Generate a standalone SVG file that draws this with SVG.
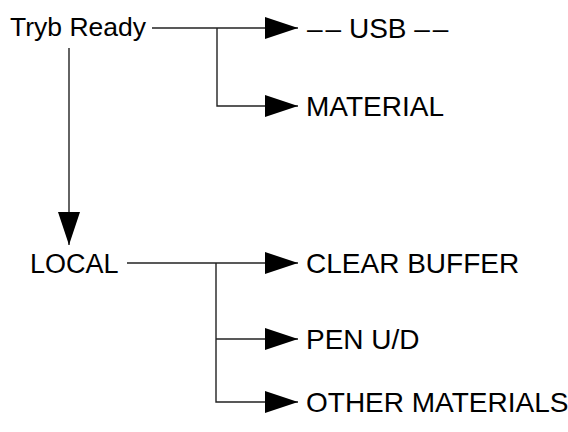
<svg xmlns="http://www.w3.org/2000/svg" width="568" height="432" viewBox="0 0 568 432">
<style>
.t{font-family:"Liberation Sans",Arial,sans-serif;font-size:28px;fill:#000}
.c{fill:none;stroke:#222;stroke-width:1.4}
</style>
<defs>
<marker id="ah" markerUnits="userSpaceOnUse" markerWidth="34" markerHeight="24" refX="33" refY="12" orient="auto" viewBox="0 0 34 24">
<path d="M0,1 L33,12 L0,23 z" fill="#000"/>
</marker>
</defs>
<rect width="568" height="432" fill="#fff"/>
<g id="connectors">
<path class="c" d="M152,28 H298" marker-end="url(#ah)"/>
<path class="c" d="M217,28 V106 H298" marker-end="url(#ah)"/>
<path class="c" d="M69,48 V245" marker-end="url(#ah)"/>
<path class="c" d="M127,263 H298" marker-end="url(#ah)"/>
<path class="c" d="M216,263 V402 H298" marker-end="url(#ah)"/>
<path class="c" d="M216,339 H298" marker-end="url(#ah)"/>
</g>
<g id="tryb-ready"><text class="t" x="10" y="36" style="font-size:26.5px">Tryb Ready</text></g>
<g id="usb"><text class="t" x="307" y="38">–<tspan dx="3">–</tspan> USB –<tspan dx="3">–</tspan></text></g>
<g id="material"><text class="t" x="306" y="116">MATERIAL</text></g>
<g id="local"><text class="t" x="30" y="273" style="font-size:27px">LOCAL</text></g>
<g id="clear-buffer"><text class="t" x="306" y="273">CLEAR BUFFER</text></g>
<g id="pen-ud"><text class="t" x="306" y="349">PEN U/D</text></g>
<g id="other-materials"><text class="t" x="306" y="412">OTHER MATERIALS</text></g>
</svg>
